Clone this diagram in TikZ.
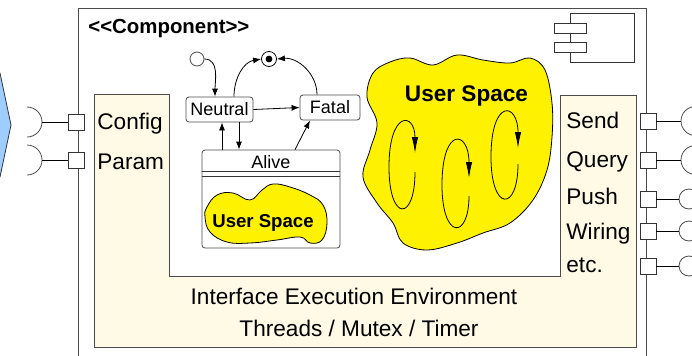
\documentclass[tikz,border=0pt]{standalone}
\usepackage{fontspec}
\setmainfont{Liberation Sans}
\usetikzlibrary{arrows.meta, positioning}
\definecolor{envcream}{HTML}{FFFAE6}
\definecolor{userfill}{HTML}{FFF200}
\definecolor{peerblue}{HTML}{9ECEFF}

\tikzset{
  state/.style={draw=black!70, rounded corners=1.5pt, fill=white, inner sep=0pt,
    minimum height=12.5pt, font=\fontsize{9}{10}\selectfont},
  port/.style={draw=black!80, fill=white, minimum size=8pt, inner sep=0pt},
  iflabel/.style={anchor=base west, inner sep=0pt, font=\fontsize{11.3}{13}\selectfont},
  envlabel/.style={anchor=base, inner sep=0pt, font=\fontsize{11.3}{13}\selectfont},
  trans/.style={-{Latex[length=4pt,width=3pt]}},
  spin/.style={-{Latex[length=8pt,width=3.2pt]}},
  blob/.style={draw, fill=userfill},
}

\begin{document}
\begin{tikzpicture}[x=0.5pt, y=-0.5pt]
\useasboundingbox (0,0) rectangle (692,355);

% neighbour component, left
\filldraw[fill=peerblue, draw=black!80] (-40,73) -- (0,73) -- (11,125) -- (0,177) -- (-40,177) -- cycle;

% component frame and icon
\draw[black!70] (78,8) rectangle (646,380);
\node[anchor=base west, inner sep=0pt, font=\bfseries\fontsize{10.2}{12}\selectfont] (title) at (88,33)
  {<\kern0pt<Component>\kern0pt>};
\draw[black!80, fill=white] (570,13) rectangle (634,62);
\draw[black!80, fill=white] (554,23) rectangle (586,33);
\draw[black!80, fill=white] (554,42) rectangle (586,52);

% execution environment (U shape)
\draw[black!70, fill=envcream] (94,94) -- (169,94) -- (169,276) -- (560,276) -- (560,95)
  -- (636,95) -- (636,347) -- (94,347) -- cycle;
\node[iflabel] (cfg) at (97,129) {Config};
\node[iflabel] (par) at (97,169) {Param};
\node[iflabel] (snd) at (566,128) {Send};
\node[iflabel] (qry) at (566,167) {Query};
\node[iflabel] (psh) at (566,204) {Push};
\node[iflabel] (wir) at (566,239) {Wiring};
\node[iflabel] (etc) at (566,272) {etc.};
\node[envlabel] (iee) at (354,304) {Interface Execution Environment};
\node[envlabel] (thr) at (359,336) {Threads / Mutex / Timer};

% required interfaces, left
\coordinate (scfg) at (27,122);
\coordinate (spar) at (27,160);
\node[port] (pcfg) at (76,122) {};
\node[port] (ppar) at (76,160) {};
\draw[black!70] ([yshift=7.5pt]scfg) arc[start angle=90, end angle=-90, radius=7.5pt];
\draw[black!70] ([yshift=7.5pt]spar) arc[start angle=90, end angle=-90, radius=7.5pt];
\draw ([xshift=7.5pt]scfg) -- (pcfg.west);
\draw ([xshift=7.5pt]spar) -- (ppar.west);

% provided interfaces, right
\node[port] (psnd) at (648,121) {};
\node[port] (pqry) at (648,160) {};
\node[port] (ppsh) at (648,199) {};
\node[port] (pwir) at (648,231) {};
\node[port] (petc) at (648,266) {};
\node[circle, draw=black!70, inner sep=0pt, minimum size=14.5pt] (lsnd) at (695.5,121) {};
\node[circle, draw=black!70, inner sep=0pt, minimum size=14.5pt] (lqry) at (695.5,160) {};
\node[circle, draw=black!70, inner sep=0pt, minimum size=10pt] (lpsh) at (689,199) {};
\node[circle, draw=black!70, inner sep=0pt, minimum size=10pt] (lwir) at (689,231) {};
\node[circle, draw=black!70, inner sep=0pt, minimum size=10pt] (letc) at (689,266) {};
\draw (psnd.east) -- (lsnd.west);
\draw (pqry.east) -- (lqry.west);
\draw (ppsh.east) -- (lpsh.west);
\draw (pwir.east) -- (lwir.west);
\draw (petc.east) -- (letc.west);

% life cycle
\node[circle, draw=black!70, inner sep=0pt, minimum size=7pt] (init) at (197,59) {};
\node[circle, draw, inner sep=0pt, minimum size=7.5pt] (final) at (269,59) {};
\fill (final) circle (1.7pt);
\node[state, minimum width=33.5pt] (neutral) at (219.5,109.5) {Neutral};
\node[state, minimum width=30pt] (fatal) at (330,107.5) {Fatal};
\node[state, minimum width=69pt, minimum height=49pt] (alive) at (271,199) {};
\node[anchor=base, inner sep=0pt, font=\fontsize{9}{10}\selectfont] (alivelbl) at (271,168) {Alive};
\draw[black!80] ([yshift=-11pt]alive.north west) -- ([yshift=-11pt]alive.north east);
\draw[black!80] ([yshift=-13.5pt]alive.north west) -- ([yshift=-13.5pt]alive.north east);

\draw[blob] plot[smooth cycle, tension=0.7] coordinates {
  (207,207) (217,195) (233,193) (250,200) (262,190) (273,184) (290,187) (310,195)
  (323,205) (327,223) (322,240) (310,243) (300,237) (277,240) (250,243) (227,242)
  (210,232) (205,217)};
\node[anchor=base, inner sep=0pt, font=\bfseries\fontsize{9.3}{11}\selectfont] (usmall) at (263,227) {User Space};

\draw[trans] (init.east) to[out=0, in=90] ([xshift=-2.25pt]neutral.north);
\draw[trans] ([xshift=7.25pt]neutral.north) to[out=90, in=190] (final.west);
\draw[trans] ([xshift=-6.5pt]fatal.north) to[out=90, in=5] (final.east);
\draw[trans] (neutral.east) -- (fatal.west);
\draw[trans] ([xshift=1.25pt]alive.north -| neutral.south) -- ([xshift=1.25pt]neutral.south);
\draw[trans] ([xshift=9.75pt]neutral.south) -- ([xshift=9.75pt]neutral.south |- alive.north);
\draw[trans] ([xshift=12pt]alive.north) -- ([xshift=-10pt]fatal.south);

% user space with its threads
\draw[blob] plot[smooth cycle, tension=0.6] coordinates {
  (373,73) (390,62) (410,58) (433,65) (457,55) (483,60) (510,63) (530,58) (545,70)
  (552,103) (552,137) (547,170) (533,200) (510,223) (483,233) (457,243) (427,250)
  (403,243) (393,223) (377,203) (363,177) (370,150) (377,123) (367,97)};
\node[anchor=base, inner sep=0pt, font=\bfseries\fontsize{11.3}{13}\selectfont] (ubig) at (466.5,101) {User Space};
\draw[spin] (415,172) .. controls (415,222) and (389,222) .. (389,167) .. controls (389,110) and (415,112) .. (415,153);
\draw[spin] (469,196) .. controls (469,240) and (442,240) .. (442,185) .. controls (442,126) and (469,130) .. (469,178);
\draw[spin] (518,164) .. controls (518,212) and (491,212) .. (491,157) .. controls (491,98) and (518,102) .. (518,148);
\end{tikzpicture}
\end{document}
